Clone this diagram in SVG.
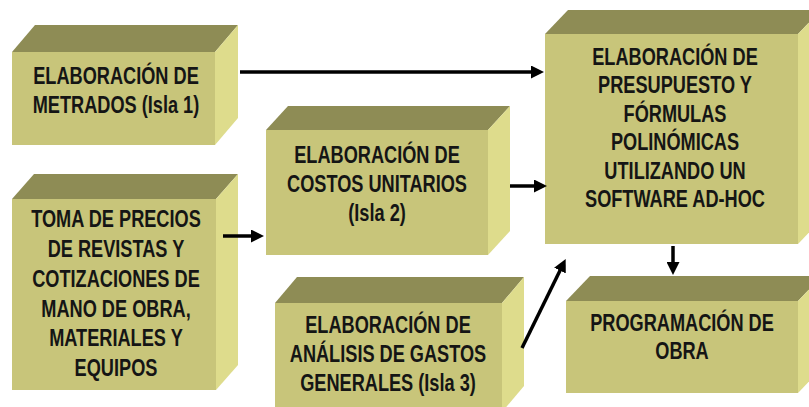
<svg xmlns="http://www.w3.org/2000/svg" width="809" height="407" viewBox="0 0 809 407">
<defs>
<style>
.front{fill:#c8c57a}
.top{fill:#8e8c55}
.side{fill:#dedc8c}
.lbl{font-family:"Liberation Sans",Arial,sans-serif;font-weight:bold;font-size:23px;fill:#151515;text-anchor:middle}
.con{stroke:#000;stroke-width:3.5;fill:none}
</style>
<marker id="ah" viewBox="0 0 13 13" refX="1" refY="6.5" markerWidth="13" markerHeight="13" markerUnits="userSpaceOnUse" orient="auto">
<path d="M0,0 L13,6.5 L0,13 z" fill="#000"/>
</marker>
</defs>
<rect width="809" height="407" fill="#fff"/>

<g id="n1">
<polygon class="front" points="12,52 215,52 215,145 12,145"/>
<polygon class="top" points="12,52 35,25 238,25 215,52"/>
<polygon class="side" points="215,52 238,25 238,118 215,145"/>
<text class="lbl" transform="translate(116 0) scale(0.79 1)"><tspan x="0" y="84">ELABORACIÓN DE</tspan><tspan x="0" y="113">METRADOS (Isla 1)</tspan></text>
</g>

<g id="n2">
<polygon class="front" points="266,130 488,130 488,255 266,255"/>
<polygon class="top" points="266,130 288,106 510,106 488,130"/>
<polygon class="side" points="488,130 510,106 510,231 488,255"/>
<text class="lbl" transform="translate(377 0) scale(0.79 1)"><tspan x="0" y="163">ELABORACIÓN DE</tspan><tspan x="0" y="192">COSTOS UNITARIOS</tspan><tspan x="0" y="221">(Isla 2)</tspan></text>
</g>

<g id="n3">
<polygon class="front" points="545,34 798,34 798,244 545,244"/>
<polygon class="top" points="545,34 568,10 821,10 798,34"/>
<polygon class="side" points="798,34 821,10 821,220 798,244"/>
<text class="lbl" transform="translate(675 0) scale(0.79 1)"><tspan x="0" y="65">ELABORACIÓN DE</tspan><tspan x="0" y="93.5">PRESUPUESTO Y</tspan><tspan x="0" y="122">FÓRMULAS</tspan><tspan x="0" y="150.5">POLINÓMICAS</tspan><tspan x="0" y="179">UTILIZANDO UN</tspan><tspan x="0" y="207.5">SOFTWARE AD-HOC</tspan></text>
</g>

<g id="n4">
<polygon class="front" points="12,199 216,199 216,390 12,390"/>
<polygon class="top" points="12,199 34,174 238,174 216,199"/>
<polygon class="side" points="216,199 238,174 238,365 216,390"/>
<text class="lbl" transform="translate(116 0) scale(0.79 1)"><tspan x="0" y="227">TOMA DE PRECIOS</tspan><tspan x="0" y="257">DE REVISTAS Y</tspan><tspan x="0" y="287">COTIZACIONES DE</tspan><tspan x="0" y="317">MANO DE OBRA,</tspan><tspan x="0" y="346">MATERIALES Y</tspan><tspan x="0" y="376">EQUIPOS</tspan></text>
</g>

<g id="n5">
<polygon class="front" points="275,303 502,303 502,412 275,412"/>
<polygon class="top" points="275,303 297,277 524,277 502,303"/>
<polygon class="side" points="502,303 524,277 524,386 502,412"/>
<text class="lbl" transform="translate(388 0) scale(0.79 1)"><tspan x="0" y="333">ELABORACIÓN DE</tspan><tspan x="0" y="362">ANÁLISIS DE GASTOS</tspan><tspan x="0" y="391">GENERALES (Isla 3)</tspan></text>
</g>

<g id="n6">
<polygon class="front" points="566,301 798,301 798,393 566,393"/>
<polygon class="top" points="566,301 590,276 822,276 798,301"/>
<polygon class="side" points="798,301 822,276 822,368 798,393"/>
<text class="lbl" transform="translate(682 0) scale(0.79 1)"><tspan x="0" y="331">PROGRAMACIÓN DE</tspan><tspan x="0" y="359">OBRA</tspan></text>
</g>

<g id="connectors">
<line class="con" x1="240" y1="72" x2="532" y2="72" marker-end="url(#ah)"/>
<line class="con" x1="510" y1="186" x2="535" y2="186" marker-end="url(#ah)"/>
<line class="con" x1="223" y1="236" x2="252" y2="236" marker-end="url(#ah)"/>
<line class="con" x1="522" y1="348" x2="560.4" y2="269.7" marker-end="url(#ah)"/>
<line class="con" x1="673" y1="246" x2="673" y2="263" marker-end="url(#ah)"/>
</g>
</svg>
